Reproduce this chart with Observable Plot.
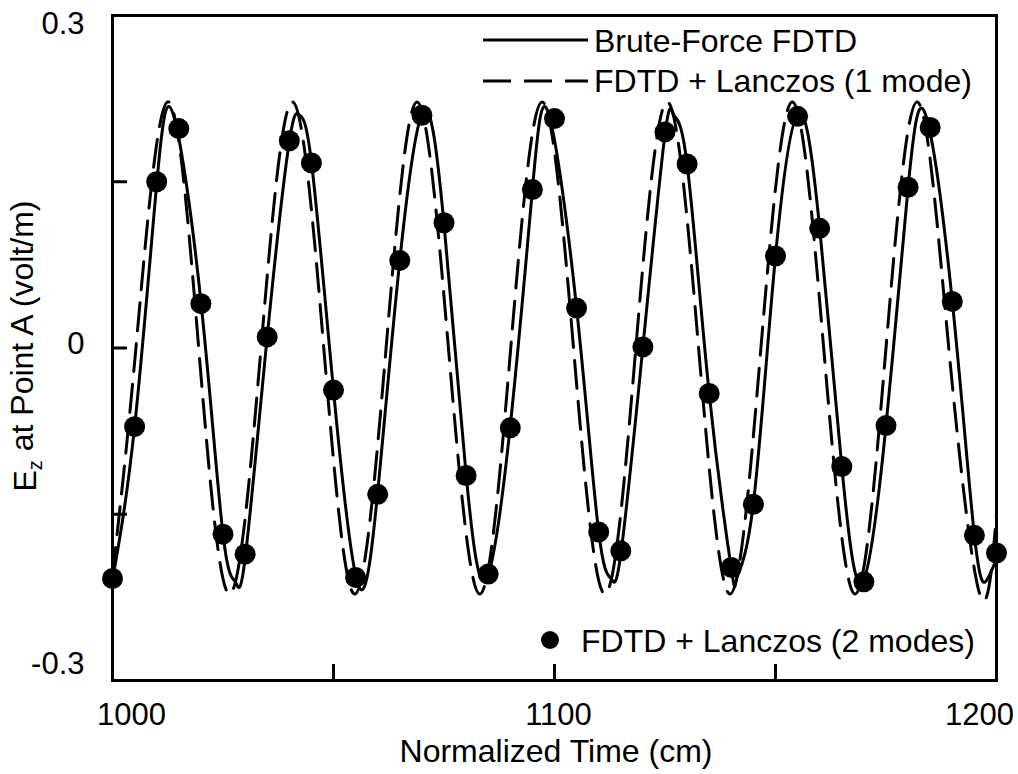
<!DOCTYPE html>
<html><head><meta charset="utf-8">
<script src="https://cdn.jsdelivr.net/npm/d3@7"></script>
<script src="https://cdn.jsdelivr.net/npm/@observablehq/plot@0.6"></script>
<style>body{margin:0;background:#fff;} #chart{width:1018px;height:774px;}</style>
</head><body><div id="chart"></div>
<script>
// Brute-Force FDTD (solid line)
const solidTime  = [1000,1005,1010,1013.8,1020,1025,1027.8,1030,1035,1040,1042.3,1045,1050,1055.6,1060,1065,1070.4,1075,1080,1084.5,1090,1095,1098.7,1105,1110,1112.8,1115,1120,1125,1127,1130,1135,1140,1141.3,1145,1150,1155.3,1160,1165,1169.6,1175,1180,1184,1190,1195,1197.7,1200];
const solidValue = [-0.209,-0.071,0.148,0.210,0.042,-0.168,-0.211,-0.190,0.010,0.186,0.210,0.168,-0.038,-0.214,-0.130,0.079,0.214,0.112,-0.114,-0.209,-0.070,0.143,0.211,0.036,-0.166,-0.208,-0.186,0.001,0.193,0.210,0.166,-0.041,-0.199,-0.207,-0.140,0.083,0.212,0.108,-0.107,-0.212,-0.070,0.145,0.210,0.042,-0.169,-0.210,-0.190];
// FDTD + Lanczos (1 mode) (dashed line)
const dashTime  = [1000,1005.3,1012.4,1019.5,1026.5,1033.6,1040.7,1047.8,1054.8,1061.9,1068.9,1076.0,1083.1,1090.1,1097.2,1104.3,1111.4,1118.4,1125.5,1132.6,1139.7,1146.7,1153.8,1160.9,1168.0,1175.0,1182.1,1189.2,1196.2,1200];
const dashValue = [-0.205,0,0.222,0,-0.222,0,0.222,0,-0.222,0,0.222,0,-0.222,0,0.222,0,-0.222,0,0.222,0,-0.222,0,0.222,0,-0.222,0,0.222,0,-0.222,-0.150];
// FDTD + Lanczos (2 modes) (dots)
const dotTime  = [1000,1005,1010,1015,1020,1025,1030,1035,1040,1045,1050,1055,1060,1065,1070,1075,1080,1085,1090,1095,1100,1105,1110,1115,1120,1125,1130,1135,1140,1145,1150,1155,1160,1165,1170,1175,1180,1185,1190,1195,1200];
const dotValue = [-0.208,-0.071,0.150,0.198,0.040,-0.168,-0.186,0.010,0.187,0.167,-0.038,-0.207,-0.132,0.079,0.210,0.113,-0.115,-0.204,-0.072,0.143,0.207,0.036,-0.166,-0.183,0.001,0.195,0.166,-0.041,-0.198,-0.141,0.083,0.209,0.108,-0.107,-0.211,-0.070,0.145,0.199,0.042,-0.169,-0.185];

const xTicks = [1000,1050,1100,1150,1200];
const xTickLabels = ["1000","1100","1200"];
const yTicks = [-0.3,-0.15,0,0.15,0.3];
const yTickLabels = ["-0.3","0","0.3"];
const seriesNames = ["Brute-Force FDTD","FDTD + Lanczos (1 mode)","FDTD + Lanczos (2 modes)"];
const xTitle = "Normalized Time (cm)";
const yTitleMain = "E", yTitleSub = "z", yTitleRest = " at Point A (volt/m)";

const solid = solidTime.map((t,i)=>({t, v: solidValue[i]}));
const dash = dashTime.map((t,i)=>({t, v: dashValue[i]}));
const dots = dotTime.map((t,i)=>({t, v: dotValue[i]}));

const FONT = "'Liberation Sans', Arial, sans-serif";
const FS = 31;
const xLabelDx = [19, 4, -17];
const yLabelDy = [-16, -4, 9];

const marks = [
  Plot.line(dash, {x:"t", y:"v", curve:"natural", stroke:"#000", strokeWidth:3, strokeDasharray:"28,13"}),
  Plot.line(solid, {x:"t", y:"v", curve:"natural", stroke:"#000", strokeWidth:3}),
  Plot.dot(dots, {x:"t", y:"v", r:10.5, fill:"#000", stroke:null}),
  Plot.axisX({ticks: xTicks, tickSize:-16, tickFormat:()=>"", strokeWidth:3, label:null}),
  Plot.axisY({ticks: yTicks, tickSize:-15, tickFormat:()=>"", strokeWidth:3, label:null}),
  Plot.frame({stroke:"#000", strokeWidth:3})
];
xTickLabels.forEach((s,i)=>{
  marks.push(Plot.text([s], {x:d=>+d, text:d=>d, frameAnchor:"bottom", dy:35, dx:xLabelDx[i], lineAnchor:"middle", fontSize:FS, fill:"#000"}));
});
yTickLabels.forEach((s,i)=>{
  marks.push(Plot.text([s], {y:d=>+d, text:d=>d, frameAnchor:"left", dx:-28, dy:yLabelDy[i], textAnchor:"end", lineAnchor:"middle", fontSize:FS, fill:"#000"}));
});

const chart = Plot.plot({
  width:1018, height:774,
  marginLeft:112, marginRight:22, marginTop:15, marginBottom:94,
  x:{domain:[1000,1200]},
  y:{domain:[-0.3,0.3]},
  style:{fontFamily:FONT, fontSize:FS+"px", background:"#fff", color:"#000"},
  marks
});
document.getElementById("chart").appendChild(chart);

// legend and axis titles
const svg = d3.select(chart);
const g = svg.append("g").attr("font-family", FONT).attr("font-size", 32).attr("fill", "#000").attr("text-anchor","start");
g.append("line").attr("x1",483).attr("x2",588).attr("y1",40).attr("y2",40).attr("stroke","#000").attr("stroke-width",3);
g.append("text").attr("x",594).attr("y",41).attr("dy","0.35em").text(seriesNames[0]);
g.append("line").attr("x1",483).attr("x2",588).attr("y1",81).attr("y2",81).attr("stroke","#000").attr("stroke-width",3).attr("stroke-dasharray","28,13");
g.append("text").attr("x",594).attr("y",81).attr("dy","0.35em").text(seriesNames[1]);
g.append("circle").attr("cx",550).attr("cy",640).attr("r",9).attr("fill","#000");
g.append("text").attr("x",581).attr("y",641).attr("dy","0.35em").text(seriesNames[2]);

g.append("text").attr("x",556).attr("y",762).attr("text-anchor","middle").attr("font-size",32).text(xTitle);
const yt = g.append("text").attr("transform","translate(36,346) rotate(-90)").attr("text-anchor","middle").attr("font-size",32);
yt.append("tspan").text(yTitleMain);
yt.append("tspan").attr("dy","0.28em").attr("font-size",20).text(yTitleSub);
yt.append("tspan").attr("dy","-0.28em").text(yTitleRest);
</script>
</body></html>
